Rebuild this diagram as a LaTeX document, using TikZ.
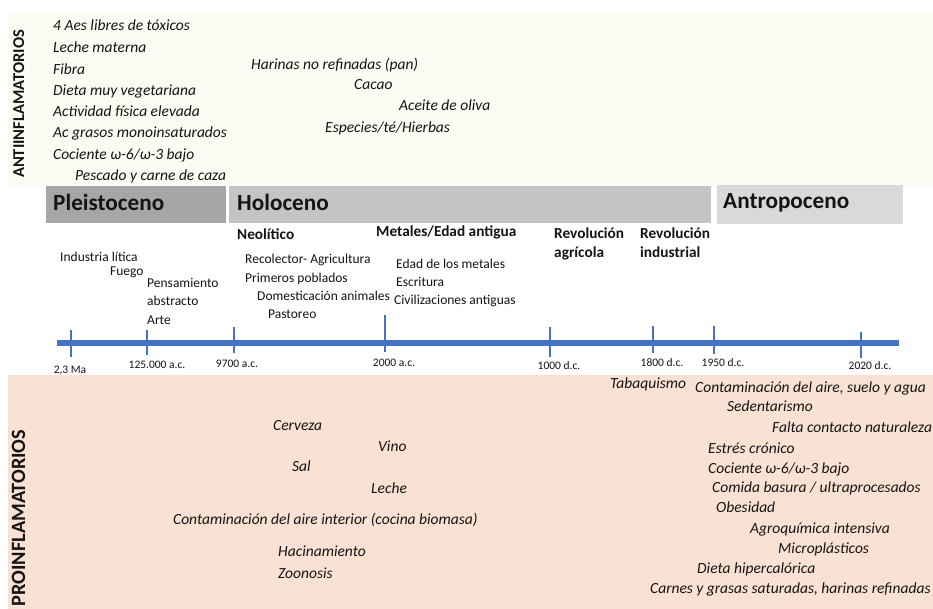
\documentclass[tikz,border=0pt]{standalone}
\usepackage{fontspec}
\setmainfont{Carlito}
\definecolor{antibg}{HTML}{FBFBF3}
\definecolor{probg}{HTML}{F9E2D4}
\definecolor{pleis}{HTML}{A6A6A6}
\definecolor{holo}{HTML}{C4C4C4}
\definecolor{antro}{HTML}{D9D9D9}
\definecolor{tline}{HTML}{4472C4}
\definecolor{ink}{HTML}{141414}
\tikzset{
  base/.style={inner sep=0pt, anchor=west, text=ink, text height=0.64em, text depth=0pt},
  itx/.style={base, font=\itshape\fontsize{15.5}{18}\selectfont},
  tlx/.style={base, font=\fontsize{13.5}{16}\selectfont},
  hdx/.style={base, font=\bfseries\fontsize{15.3}{18}\selectfont},
  tkx/.style={base, anchor=center, font=\fontsize{11.5}{14}\selectfont},
  erax/.style={base, font=\bfseries\fontsize{23.2}{26}\selectfont},
  vlab/.style={inner sep=0pt, rotate=90, text=ink, text height=0.64em, text depth=0pt},
  tick/.style={draw=tline, line width=1.6pt},
}
\begin{document}
\begin{tikzpicture}[x=1pt,y=-1pt]
\useasboundingbox (0,0) rectangle (933,609);
\fill[white] (0,0) rectangle (933,609);
% backgrounds
\fill[antibg] (8,13) rectangle (933,186);
\fill[probg] (8,375) rectangle (933,609);
% era bars
\fill[pleis] (46,186) rectangle (226,223);
\fill[holo] (229,186) rectangle (711,223);
\fill[antro] (717,185) rectangle (903,224);
\node[erax] (pleis) at (53,207) {Pleistoceno};
\node[erax] (holo) at (237,207) {Holoceno};
\node[erax] (antro) at (723,205) {Antropoceno};
% vertical labels
\node[vlab, font=\bfseries\fontsize{16.5}{18}\selectfont] (anti) at (21,104) {ANTIINFLAMATORIOS};
\node[vlab, font=\bfseries\fontsize{20.3}{22}\selectfont] (pro) at (22,518) {PROINFLAMATORIOS};
% anti-inflammatory items
\node[itx] (a1) at (53,27) {4 Aes libres de tóxicos};
\node[itx] (a2) at (53,49) {Leche materna};
\node[itx] (a3) at (53,71) {Fibra};
\node[itx] (a4) at (53,92) {Dieta muy vegetariana};
\node[itx] (a5) at (53,113) {Actividad física elevada};
\node[itx] (a6) at (53,134) {Ac grasos monoinsaturados};
\node[itx] (a7) at (53,156) {Cociente ω-6/ω-3 bajo};
\node[itx] (a8) at (75,177) {Pescado y carne de caza};
\node[itx] (a9) at (251,66) {Harinas no refinadas (pan)};
\node[itx] (a10) at (354,86) {Cacao};
\node[itx] (a11) at (399,107) {Aceite de oliva};
\node[itx] (a12) at (325,129) {Especies/té/Hierbas};
% timeline
\coordinate (tA) at (57,343);
\coordinate (tB) at (899,343);
\draw[tline, line width=6pt] (tA) -- (tB);
\draw[tick] (71,330) -- (71,357);
\draw[tick] (147,330) -- (147,355);
\draw[tick] (234,327) -- (234,353);
\draw[tick] (385,315) -- (385,352);
\draw[tick] (550,327) -- (550,357);
\draw[tick] (653,326) -- (653,353);
\draw[tick] (714,326) -- (714,354);
\draw[tick] (861,332) -- (861,358);
\node[tkx] (k1) at (70,370) {2,3 Ma};
\node[tkx] (k2) at (157,365) {125.000 a.c.};
\node[tkx] (k3) at (237,364) {9700 a.c.};
\node[tkx] (k4) at (394,363) {2000 a.c.};
\node[tkx] (k5) at (559,366) {1000 d.c.};
\node[tkx] (k6) at (662,363) {1800 d.c.};
\node[tkx] (k7) at (723,363) {1950 d.c.};
\node[tkx] (k8) at (870,366) {2020 d.c.};
% events above timeline
\node[tlx] (e1) at (60,258) {Industria lítica};
\node[tlx] (e2) at (110,272) {Fuego};
\node[tlx] (e3) at (147,284) {Pensamiento};
\node[tlx] (e4) at (147,302) {abstracto};
\node[tlx] (e5) at (147,321) {Arte};
\node[hdx] (h1) at (237,236) {Neolítico};
\node[tlx] (e6) at (245,260) {Recolector- Agricultura};
\node[tlx] (e7) at (245,279) {Primeros poblados};
\node[tlx] (e8) at (257,297) {Domesticación animales};
\node[tlx] (e9) at (268,315) {Pastoreo};
\node[hdx] (h2) at (376,233) {Metales/Edad antigua};
\node[tlx] (e10) at (396,265) {Edad de los metales};
\node[tlx] (e11) at (396,283) {Escritura};
\node[tlx] (e12) at (394,301) {Civilizaciones antiguas};
\node[hdx] (h3) at (554,235) {Revolución};
\node[hdx] (h4) at (554,254) {agrícola};
\node[hdx] (h5) at (640,235) {Revolución};
\node[hdx] (h6) at (640,254) {industrial};
% pro-inflammatory items
\node[itx] (p1) at (273,427) {Cerveza};
\node[itx] (p2) at (378,448) {Vino};
\node[itx] (p3) at (292,468) {Sal};
\node[itx] (p4) at (371,490) {Leche};
\node[itx] (p5) at (173,521) {Contaminación del aire interior (cocina biomasa)};
\node[itx] (p6) at (278,553) {Hacinamiento};
\node[itx] (p7) at (278,575) {Zoonosis};
\node[itx] (q0) at (610,385) {Tabaquismo};
\node[itx] (q1) at (695,389) {Contaminación del aire, suelo y agua};
\node[itx] (q2) at (727,408) {Sedentarismo};
\node[itx] (q3) at (772,429) {Falta contacto naturaleza};
\node[itx] (q4) at (708,450) {Estrés crónico};
\node[itx] (q5) at (708,470) {Cociente ω-6/ω-3 bajo};
\node[itx] (q6) at (712,489) {Comida basura / ultraprocesados};
\node[itx] (q7) at (716,509) {Obesidad};
\node[itx] (q8) at (750,530) {Agroquímica intensiva};
\node[itx] (q9) at (778,550) {Microplásticos};
\node[itx] (q10) at (697,570) {Dieta hipercalórica};
\node[itx] (q11) at (650,590) {Carnes y grasas saturadas, harinas refinadas};
\end{tikzpicture}
\end{document}
